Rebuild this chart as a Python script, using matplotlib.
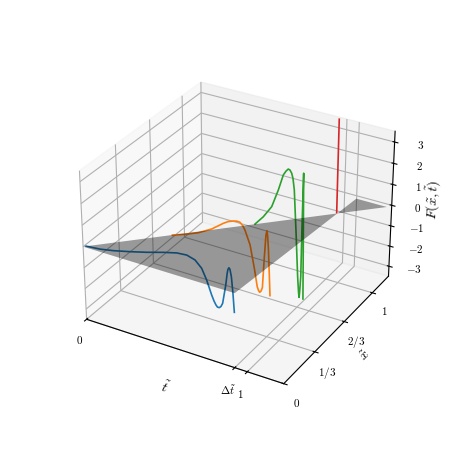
import matplotlib
matplotlib.use('Agg')
import matplotlib.pyplot as plt
import numpy as np

plt.rcParams['mathtext.fontset'] = 'cm'
plt.rcParams['font.family'] = 'serif'
plt.rcParams['font.serif'] = ['cmr10']
plt.rcParams['axes.formatter.use_mathtext'] = True

delta_t = 0.925
t_max = 1.215
x_max = 1.2

x_levels = [0, 1/3, 2/3, 1]
x_labels = ['$0$', '$1/3$', '$2/3$', '$1$']
t_ticks = [0, delta_t, 1]
t_labels = ['$0$', r'$\Delta\tilde{t}$', '$1$']
f_ticks = [-3, -2, -1, 0, 1, 2, 3]
f_labels = ['$-3$', '$-2$', '$-1$', '$0$', '$1$', '$2$', '$3$']

# curves, one for each x level
t_blue = [0.019, 0.108, 0.192, 0.296, 0.4, 0.502, 0.583, 0.643, 0.692, 0.731, 0.76, 0.789, 0.803, 0.814, 0.823, 0.834, 0.844, 0.854, 0.873, 0.881, 0.886, 0.892, 0.898, 0.906, 0.915, 0.923]
f_blue = [0.07, 0.13, 0.25, 0.44, 0.65, 0.88, 1.04, 1.08, 0.97, 0.68, 0.21, -0.41, -0.66, -0.81, -0.89, -0.89, -0.81, -0.64, 0.25, 0.77, 0.99, 1.08, 1.02, 0.71, -0.03, -0.89]
t_orange = [0.345, 0.424, 0.507, 0.59, 0.661, 0.689, 0.721, 0.743, 0.761, 0.779, 0.791, 0.822, 0.848, 0.866, 0.874, 0.881, 0.889, 0.897, 0.907, 0.916, 0.922, 0.926, 0.931, 0.938, 0.943]
f_orange = [0.01, 0.22, 0.48, 0.84, 1.26, 1.4, 1.5, 1.54, 1.53, 1.4, 1.24, 0.62, -0.41, -1.24, -1.4, -1.47, -1.39, -1.21, 0.19, 1.29, 1.5, 1.27, 0.71, -0.52, -1.48]
t_green = [0.66, 0.711, 0.762, 0.801, 0.83, 0.846, 0.859, 0.869, 0.88, 0.888, 0.897, 0.912, 0.926, 0.933, 0.937, 0.94, 0.945, 0.947, 0.949, 0.951, 0.956, 0.961]
f_green = [-0.07, 0.39, 0.98, 1.84, 2.6, 2.81, 2.93, 2.91, 2.78, 2.56, 2.05, 0.05, -2.0, -2.73, -2.99, -2.72, -1.96, 0.44, 1.69, 2.93, 0.02, -3.01]
t_red = [0.981, 0.98]
f_red = [-0.1, 4.28]

# corners of the grey sheet at F = 0
t_sheet = [[0, delta_t], [1.2, 1.013]]
x_sheet = [[0, 0], [1.17, 1.17]]

fig = plt.figure(figsize=(4.57, 4.57), dpi=100)
ax = fig.add_subplot(projection='3d', computed_zorder=False)
ax.set_position([0.131, 0.112, 0.769, 0.768])

curves = [(t_blue, f_blue, 'C0'), (t_orange, f_orange, 'C1'),
          (t_green, f_green, 'C2'), (t_red, f_red, 'C3')]
for xv, (tv, fv, c) in zip(x_levels, curves):
    ax.plot(tv, [xv] * len(tv), fv, color=c, lw=1.2, zorder=1)

T = np.array(t_sheet)
X = np.array(x_sheet)
ax.plot_surface(T, X, np.zeros_like(T), color='k', alpha=0.38, shade=False, linewidth=0, zorder=2)

ax.set_xlim(0, t_max)
ax.set_ylim(0, x_max)
ax.set_zlim(-3.5, 3.5)
ax.set_xticks(t_ticks)
ax.set_xticklabels(t_labels, fontsize=8)
ax.set_yticks(x_levels)
ax.set_yticklabels(x_labels, fontsize=8)
ax.set_zticks(f_ticks)
ax.set_zticklabels(f_labels, fontsize=8)
ax.tick_params(axis='x', pad=0)
ax.tick_params(axis='y', pad=0)
ax.set_xlabel(r'$\tilde{t}$', fontsize=10, labelpad=-2)
ax.set_ylabel(r'$\tilde{x}$', fontsize=10, labelpad=-3)
ax.set_zlabel(r'$F(\tilde{x},\tilde{t})$', fontsize=10, labelpad=-2.5)

fig.savefig('out.png', dpi=100)
